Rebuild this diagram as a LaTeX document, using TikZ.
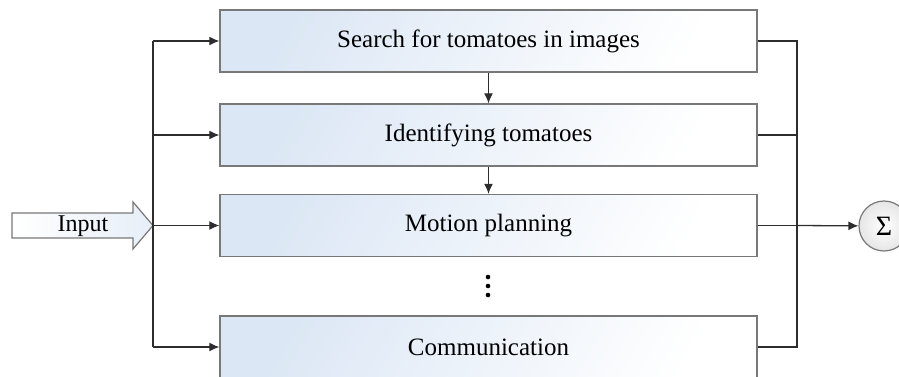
\documentclass[tikz,border=0pt]{standalone}
\usepackage{fontspec}
\setmainfont{Liberation Serif}
\usepackage{xcolor}
\usetikzlibrary{arrows.meta, positioning}

\definecolor{boxblue}{RGB}{220,231,245}
\definecolor{boxline}{RGB}{120,120,120}
\definecolor{wire}{RGB}{45,45,45}

\tikzset{
  task/.style={draw=boxline, line width=1.4pt, minimum width=537pt, minimum height=62pt,
    left color=boxblue, right color=white, shading angle=60, inner sep=0pt,
    font=\fontsize{25}{28}\selectfont},
  wireline/.style={draw=wire, line width=1.3pt},
  arr/.style={wireline, -{Latex[length=10pt,width=9pt]}}
}

\begin{document}
\begin{tikzpicture}[x=1pt,y=-1pt]
\useasboundingbox (0,0) rectangle (899,376);
% the four task boxes
\node[task] (search) at (488.5,41) {Search for tomatoes in images};
\node[task] (ident) at (488.5,135) {Identifying tomatoes};
\node[task] (motion) at (488.5,225.5) {Motion planning};
\node[task] (comm) at (488.5,347) {Communication};
\foreach \y in {277,286,295}
  \fill (488,\y) circle (2.3);
\draw[arr] (search) -- (ident);
\draw[arr] (ident) -- (motion);
% input arrow
\coordinate (tip) at (153,225.5);
\draw[draw=boxline, line width=1.2pt, left color=white, right color=boxblue!70]
  (12,213) -- (133,213) -- (133,202) -- (tip) -- (133,249) -- (133,238) -- (12,238) -- cycle;
\node[font=\fontsize{24}{26}\selectfont] (input) at (83,226) {Input};
% left bus
\coordinate (ltop) at (153,41);
\coordinate (lbot) at (153,347);
\draw[wireline] (ltop) -- (lbot);
\draw[arr] (ltop) -- (search.west);
\draw[arr] (ident.west -| ltop) -- (ident.west);
\draw[arr] (tip) -- (motion.west);
\draw[arr] (lbot) -- (comm.west);
% right bus
\coordinate (rtop) at (797,41);
\coordinate (rbot) at (797,347);
\draw[wireline] (search.east) -- (rtop) -- (rbot) -- (comm.east);
\draw[wireline] (ident.east) -- (ident.east -| rtop);
\draw[wireline] (motion.east) -- (motion.east -| rtop);
\node[circle, draw=boxline, line width=1.2pt, minimum size=50pt, inner sep=0pt,
  inner color=white, outer color=gray!20, font=\fontsize{28}{30}\selectfont] (sum) at (884,226) {Σ};
\draw[arr] (motion.east -| rtop) -- (sum);
\end{tikzpicture}
\end{document}
